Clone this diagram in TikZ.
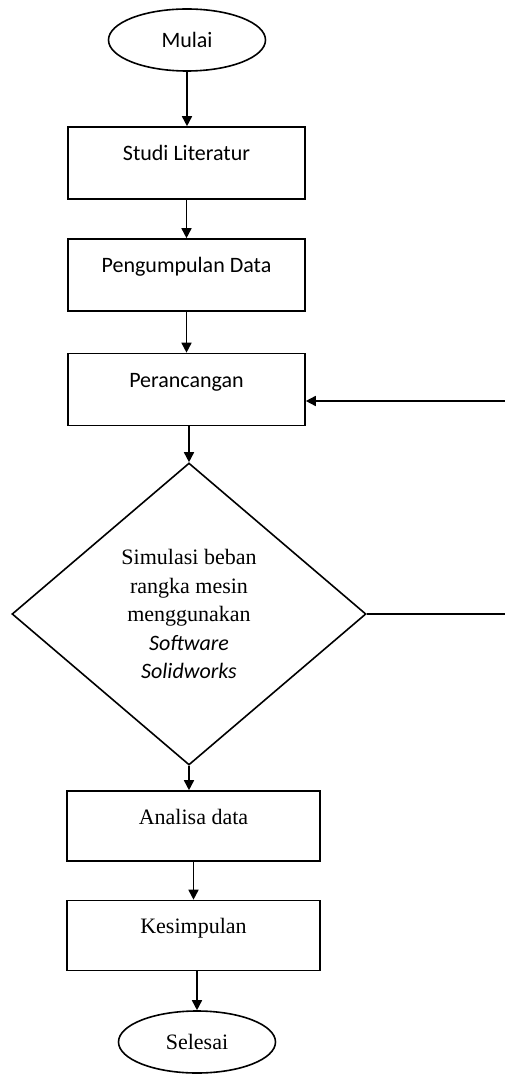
\documentclass[tikz,border=0pt]{standalone}
\usepackage{fontspec}
\setmainfont{Liberation Serif}
\newfontfamily\calibri{Carlito}
\usetikzlibrary{arrows.meta,shapes.geometric}

\begin{document}
\begin{tikzpicture}[
    x=0.5pt,y=-0.5pt,
    font=\fontsize{11pt}{14.25pt}\selectfont,
    >={Triangle[length=5pt,width=5pt]},
    line width=0.8pt,
    base/.style={draw,inner sep=0pt},
    term/.style={base,ellipse,minimum width=78.5pt,minimum height=31pt},
    procbox/.style={base,rectangle,text height=8pt,text depth=10pt},
    upper/.style={procbox,minimum width=118.5pt,minimum height=36pt,font=\fontsize{11pt}{14pt}\calibri},
    lower/.style={procbox,minimum width=126.5pt,minimum height=35pt},
    decide/.style={base,diamond,aspect=1.17,minimum width=177pt,minimum height=151pt,align=center},
    arr/.style={->},
    ]
    \useasboundingbox (0,0) rectangle (504,1074);
    \node[term,font=\fontsize{11pt}{14pt}\calibri] (mul) at (187,40) {Mulai};
    \node[upper] (stu) at (186.5,163) {Studi Literatur};
    \node[upper] (pen) at (186.5,275) {Pengumpulan Data};
    \node[upper] (per) at (186.5,389.5) {Perancangan};
    \node[decide] (dia) at (189,614) {Simulasi beban\\rangka mesin\\menggunakan\\
        {\calibri\itshape Software}\\{\calibri\itshape Solidworks}};
    \node[lower] (ana) at (193.5,826) {Analisa data};
    \node[lower] (kes) at (193.5,935.5) {Kesimpulan};
    \node[term] (sel) at (197,1042) {Selesai};

    \draw[arr] (mul.south) -- (mul.south |- stu.north);
    \draw[arr] (stu.south) -- (stu.south |- pen.north);
    \draw[arr] (pen.south) -- (pen.south |- per.north);
    \draw[arr] (dia.north |- per.south) -- (dia.north);
    \draw[arr] (dia.south) -- (dia.south |- ana.north);
    \draw[arr] (ana.south) -- (ana.south |- kes.north);
    \draw[arr] (sel.north |- kes.south) -- (sel.north);

    % back to Perancangan
    \coordinate (loop) at (512,401);
    \draw[arr] (dia.east) -| (loop) -- (loop -| per.east);
\end{tikzpicture}
\end{document}
